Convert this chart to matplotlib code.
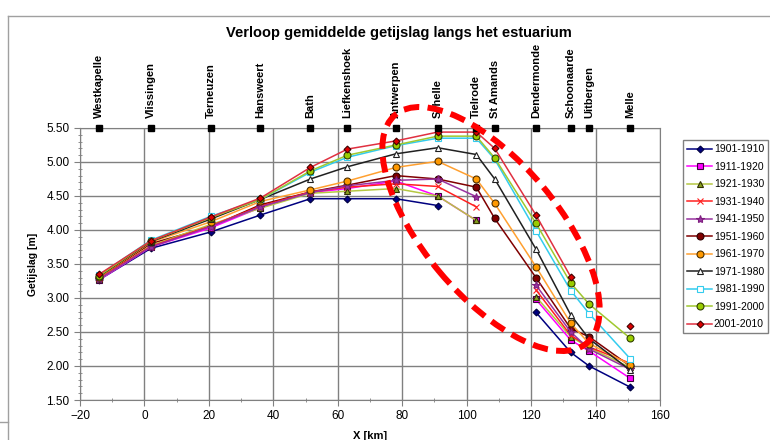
import numpy as np
import matplotlib
matplotlib.use("Agg")
import matplotlib.pyplot as plt
from matplotlib.patches import Ellipse
from matplotlib.lines import Line2D
from matplotlib.transforms import IdentityTransform
from matplotlib.ticker import MultipleLocator, FormatStrFormatter

plt.rcParams['font.family'] = ['Liberation Sans', 'DejaVu Sans']

nan = np.nan

# stations along the estuary and their position [km]
stations = ["Westkapelle", "Vlissingen", "Terneuzen", "Hansweert", "Bath",
            "Liefkenshoek", "Antwerpen", "Schelle", "Tielrode", "St Amands",
            "Dendermonde", "Schoonaarde", "Uitbergen", "Melle"]
km = [-14, 2, 20.5, 36, 51.5, 63, 78, 91, 103, 108.7, 121.5, 132.3, 138, 150.7]

# mean tidal range per decade [m] (nan = no data)
t1901 = [3.27, 3.73, 3.97, 4.22, 4.46, 4.46, 4.46, 4.36, nan, nan, 2.79, 2.20, 2.00, 1.69]
t1911 = [3.27, 3.75, 4.03, 4.33, 4.55, 4.61, 4.72, 4.50, 4.14, nan, 2.98, 2.38, 2.22, 1.82]
t1921 = [3.28, 3.77, 4.08, 4.32, 4.54, 4.57, 4.61, 4.50, 4.14, nan, 3.02, 2.43, 2.27, 1.98]
t1931 = [3.29, 3.76, 4.06, 4.35, 4.56, 4.63, 4.68, 4.64, 4.34, nan, 3.12, 2.45, 2.28, 2.04]
t1941 = [3.28, 3.75, 4.05, 4.34, 4.55, 4.65, 4.73, 4.75, 4.49, nan, 3.19, 2.50, 2.25, 1.95]
t1951 = [3.30, 3.80, 4.05, 4.37, 4.56, 4.66, 4.80, 4.75, 4.63, 4.17, 3.30, 2.55, 2.43, 2.00]
t1961 = [3.31, 3.82, 4.12, 4.42, 4.59, 4.72, 4.92, 5.01, 4.75, 4.39, 3.46, 2.63, 2.33, 2.02]
t1971 = [3.32, 3.83, 4.16, 4.45, 4.75, 4.93, 5.12, 5.21, 5.11, 4.75, 3.72, 2.75, 2.40, 1.94]
t1981 = [3.34, 3.85, 4.20, 4.45, 4.85, 5.07, 5.24, 5.35, 5.35, 5.04, 3.99, 3.11, 2.77, 2.11]
t1991 = [3.33, 3.84, 4.18, 4.45, 4.87, 5.10, 5.25, 5.38, 5.38, 5.06, 4.10, 3.22, 2.91, 2.41]
t2001 = [3.35, 3.84, 4.19, 4.47, 4.92, 5.19, 5.31, 5.44, 5.44, 5.20, 4.22, 3.31, nan, 2.59]

labels = ["1901-1910", "1911-1920", "1921-1930", "1931-1940", "1941-1950",
          "1951-1960", "1961-1970", "1971-1980", "1981-1990", "1991-2000",
          "2001-2010"]
series = [t1901, t1911, t1921, t1931, t1941, t1951, t1961, t1971, t1981, t1991, t2001]

# (line colour, marker, marker face, marker edge, marker size)
styles = [
    ("#000080", "D", "#000080", "#000040", 3.5),
    ("#FF00FF", "s", "#FF00FF", "#400040", 5),
    ("#B5C842", "^", "#88A020", "#303000", 5),
    ("#FF2020", "x", "none", "#FF2020", 5),
    ("#9933A0", "*", "#9933A0", "#7F1F7F", 6),
    ("#800000", "o", "#800000", "#300000", 5),
    ("#FFA030", "o", "#FF9900", "#503000", 5),
    ("#202020", "^", "white", "#202020", 5),
    ("#33CCEE", "s", "white", "#33CCEE", 5),
    ("#A0C830", "o", "#99CC00", "#304000", 5),
    ("#E03040", "D", "#DD0000", "#400000", 3.5),
]

fig = plt.figure(figsize=(7.7, 4.4), dpi=100)
ax = fig.add_axes([80 / 770, 1 - 400 / 440, 580 / 770, 272 / 440])

for i, (vals, lab, (lc, mk, mf, me, ms)) in enumerate(zip(series, labels, styles)):
    z = 1.9 if lab == "1951-1960" else 2 + i * 0.01
    ax.plot(km, vals, color=lc, lw=1.1, marker=mk, markerfacecolor=mf,
            markeredgecolor=me, markersize=ms, markeredgewidth=0.8, label=lab,
            zorder=z)

# station markers along the top
ax.plot(km, [5.5] * len(km), ls="none", marker="s", color="black",
        markersize=5, clip_on=False, zorder=5)
for name, x in zip(stations, km):
    ax.annotate(name, xy=(x, 5.5), xytext=(0, 7), textcoords="offset points",
                rotation=90, ha="center", va="bottom", fontsize=8,
                fontweight="bold", annotation_clip=False)

ax.set_xlim(-20, 160)
ax.set_ylim(1.5, 5.5)
ax.xaxis.set_major_locator(MultipleLocator(20))
ax.xaxis.set_minor_locator(MultipleLocator(10))
ax.yaxis.set_major_locator(MultipleLocator(0.5))
ax.yaxis.set_minor_locator(MultipleLocator(0.1))
ax.yaxis.set_major_formatter(FormatStrFormatter("%.2f"))
ax.grid(True, which="major", color="#808080", lw=1)
ax.set_axisbelow(True)
ax.tick_params(which="major", labelsize=8.5, length=4, color="#808080")
ax.tick_params(which="minor", length=3, direction="inout", color="#808080")
for sp in ax.spines.values():
    sp.set_color("#808080")

ax.set_xlabel("X [km]", fontsize=8, fontweight="bold", labelpad=6)
ax.set_ylabel("Getijslag [m]", fontsize=7.5, fontweight="bold", labelpad=6)
fig.text(399 / 770, 1 - 33 / 440, "Verloop gemiddelde getijslag langs het estuarium",
         ha="center", va="center", fontsize=10.5, fontweight="bold")

fig.legend(loc="upper left", bbox_to_anchor=(683 / 770, 1 - 140 / 440),
           fontsize=7.5, frameon=True, fancybox=False, edgecolor="#606060",
           labelspacing=0.72, handlelength=2.4, handletextpad=0.15,
           borderpad=0.4, borderaxespad=0)

# outer chart-area border
fig.add_artist(Line2D([8 / 770, 1], [1 - 16 / 440] * 2, color="#A0A0A0", lw=1))
fig.add_artist(Line2D([8 / 770] * 2, [0, 1 - 16 / 440], color="#A0A0A0", lw=1))
fig.add_artist(Line2D([0, 8 / 770], [1 - 422 / 440] * 2, color="#A0A0A0", lw=1))

# red dashed highlight drawn over the chart
ell = Ellipse((491, 440 - 229), 298, 134, angle=-50, transform=IdentityTransform(),
              fill=False, edgecolor="#FF0000", lw=4.3, linestyle=(0, (2.6, 1.4)),
              zorder=10)
fig.add_artist(ell)

fig.savefig("out.png", dpi=100)
